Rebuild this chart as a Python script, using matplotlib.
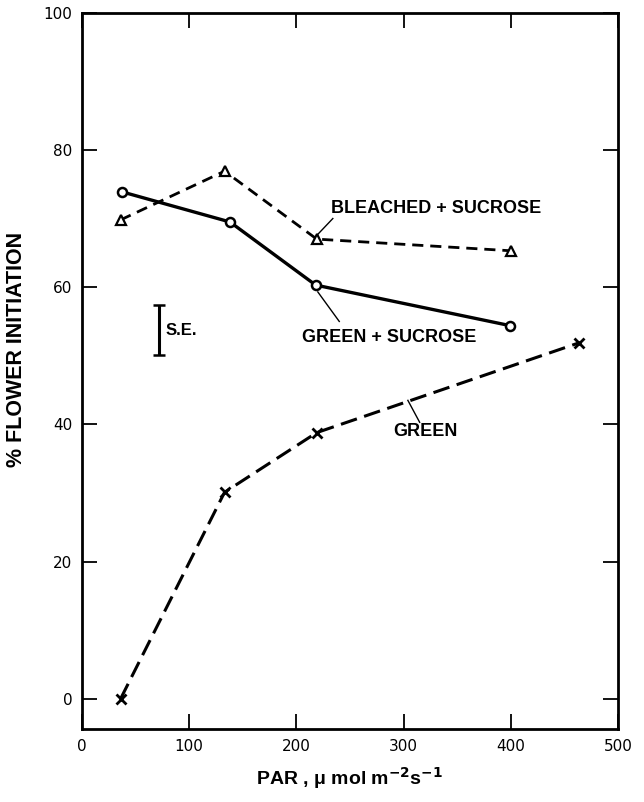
import matplotlib.pyplot as plt

plt.rcParams["mathtext.default"] = "bf"

# ── Data ──────────────────────────────────────────────────────────────────────
par_green_suc = [37, 138, 218, 399]
pct_green_suc = [73.9, 69.5, 60.3, 54.4]

par_bleached = [36, 133, 219, 400]
pct_bleached = [69.8, 76.9, 67.0, 65.3]

par_green = [36, 133, 219, 464]
pct_green = [0.0, 30.1, 38.8, 51.9]

se_x = 72
se_low, se_high = 50.1, 57.4

x_ticks = [0, 100, 200, 300, 400, 500]
y_ticks = [0, 20, 40, 60, 80, 100]

# ── Figure ────────────────────────────────────────────────────────────────────
fig = plt.figure(figsize=(6.44, 8.02), dpi=100)
ax = fig.add_axes([0.1273, 0.091, 0.8323, 0.8932])

ax.plot(par_bleached, pct_bleached, color="black", lw=2.0, ls=(0, (4, 2.5)),
        marker="^", ms=7, mfc="white", mec="black", mew=1.6)
ax.plot(par_green_suc, pct_green_suc, color="black", lw=2.4, ls="-",
        marker="o", ms=6.5, mfc="white", mec="black", mew=1.8)
ax.plot(par_green, pct_green, color="black", lw=2.2, ls=(0, (5.5, 2.5)),
        marker="x", ms=7, mec="black", mew=2.0)

# S.E. bar
ax.errorbar([se_x], [(se_low + se_high) / 2], yerr=[(se_high - se_low) / 2],
            fmt="none", ecolor="black", elinewidth=2.2, capsize=4, capthick=1.8)
ax.text(se_x + 6, (se_low + se_high) / 2, "S.E.", fontsize=12, fontweight="bold",
        family="Liberation Sans", va="center", ha="left")

# Curve labels and their leader lines
lab = dict(fontsize=13, fontweight="bold", family="Liberation Sans",
           ha="left", va="center")
ax.text(232, 71.5, "BLEACHED + SUCROSE", **lab)
ax.text(205, 52.6, "GREEN + SUCROSE", **lab)
ax.text(290, 39.0, "GREEN", **lab)

leader = dict(color="black", lw=1.0)
ax.plot([234, 220], [70.0, 67.7], **leader)
ax.plot([220, 240], [59.3, 55.0], **leader)
ax.plot([304, 315], [43.5, 40.3], **leader)

# ── Axes styling ──────────────────────────────────────────────────────────────
ax.set_xlim(0, 500)
ax.set_ylim(-4.4, 100)
ax.set_xticks(x_ticks)
ax.set_yticks(y_ticks)
ax.tick_params(direction="in", length=11, width=1.3, top=True, right=True,
               labelsize=11, pad=7)
for lbl in ax.get_xticklabels() + ax.get_yticklabels():
    lbl.set_family("DejaVu Sans")

for spine in ax.spines.values():
    spine.set_linewidth(2.0)

ax.set_xlabel(r"PAR , μ mol m$^{-2}$s$^{-1}$", fontsize=14,
              fontweight="bold", family="Liberation Sans", labelpad=8)
ax.set_ylabel("% FLOWER INITIATION", fontsize=15.5, fontweight="bold",
              family="Liberation Sans")
ax.yaxis.set_label_coords(-0.103, 0.53)

fig.savefig("out.png", dpi=100)
